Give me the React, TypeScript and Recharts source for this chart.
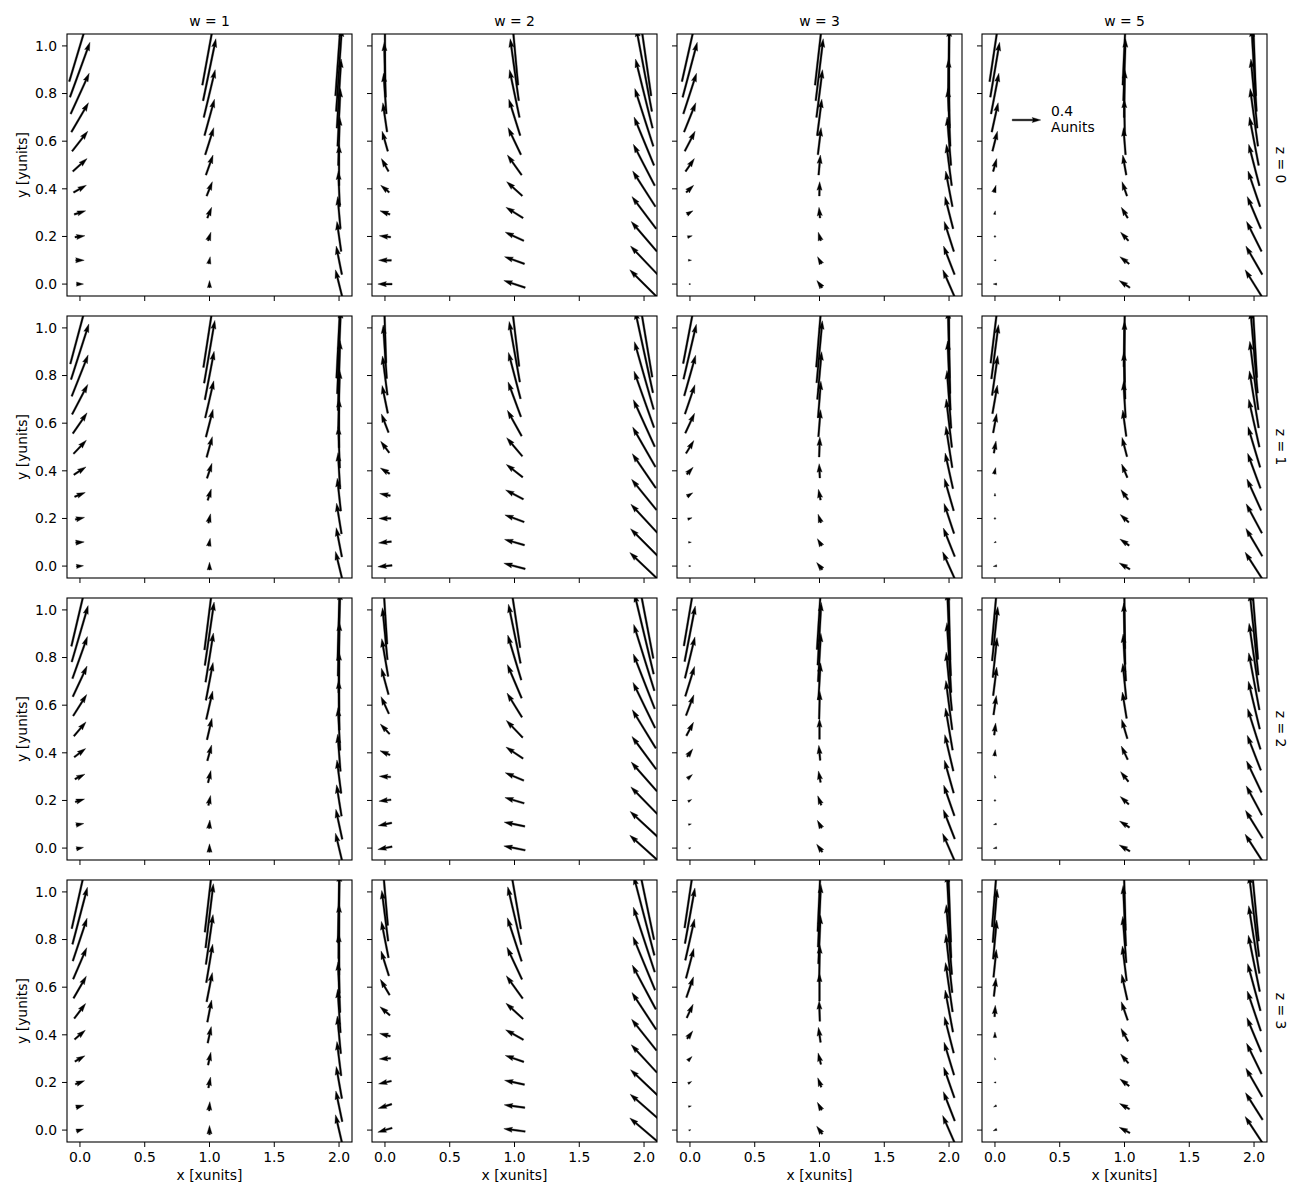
import { ScatterChart, Scatter, XAxis, YAxis } from "recharts";

const X_VALUES = [0, 1, 2];
const Y_VALUES = [0, 0.1, 0.2, 0.3, 0.4, 0.5, 0.6, 0.7, 0.8, 0.9, 1.0];
const Z_VALUES = [0, 1, 2, 3];
const W_VALUES = [1, 2, 3, 5];
const X_TICKS = [0, 0.5, 1, 1.5, 2];
const Y_TICKS = [0, 0.2, 0.4, 0.6, 0.8, 1];
const KEY_VALUE = 0.4;
const KEY_UNITS = "Aunits";

// u component (A), one list per z row: [w column][x][y]
const uZ0 = [
  [[0.10, 0.12, 0.14, 0.16, 0.18, 0.20, 0.22, 0.24, 0.26, 0.28, 0.30], [0, 0.02, 0.04, 0.06, 0.08, 0.10, 0.12, 0.14, 0.16, 0.18, 0.20], [-0.10, -0.08, -0.06, -0.04, -0.02, 0, 0.02, 0.04, 0.06, 0.08, 0.10]],
  [[-0.20, -0.18, -0.16, -0.14, -0.12, -0.10, -0.08, -0.06, -0.04, -0.02, 0], [-0.30, -0.28, -0.26, -0.24, -0.22, -0.20, -0.18, -0.16, -0.14, -0.12, -0.10], [-0.40, -0.38, -0.36, -0.34, -0.32, -0.30, -0.28, -0.26, -0.24, -0.22, -0.20]],
  [[0.025, 0.045, 0.065, 0.085, 0.105, 0.125, 0.145, 0.165, 0.185, 0.205, 0.225], [-0.075, -0.055, -0.035, -0.015, 0.005, 0.025, 0.045, 0.065, 0.085, 0.105, 0.125], [-0.175, -0.155, -0.135, -0.115, -0.095, -0.075, -0.055, -0.035, -0.015, 0.005, 0.025]],
  [[-0.05, -0.03, -0.01, 0.01, 0.03, 0.05, 0.07, 0.09, 0.11, 0.13, 0.15], [-0.15, -0.13, -0.11, -0.09, -0.07, -0.05, -0.03, -0.01, 0.01, 0.03, 0.05], [-0.25, -0.23, -0.21, -0.19, -0.17, -0.15, -0.13, -0.11, -0.09, -0.07, -0.05]],
];
const uZ1 = [
  [[0.10, 0.12, 0.13, 0.15, 0.17, 0.18, 0.20, 0.22, 0.23, 0.25, 0.27], [0, 0.02, 0.03, 0.05, 0.07, 0.08, 0.10, 0.12, 0.13, 0.15, 0.17], [-0.10, -0.08, -0.07, -0.05, -0.03, -0.02, 0, 0.02, 0.03, 0.05, 0.07]],
  [[-0.20, -0.18, -0.17, -0.15, -0.13, -0.12, -0.10, -0.08, -0.07, -0.05, -0.03], [-0.30, -0.28, -0.27, -0.25, -0.23, -0.22, -0.20, -0.18, -0.17, -0.15, -0.13], [-0.40, -0.38, -0.37, -0.35, -0.33, -0.32, -0.30, -0.28, -0.27, -0.25, -0.23]],
  [[0.03, 0.04, 0.06, 0.08, 0.09, 0.11, 0.13, 0.14, 0.16, 0.18, 0.19], [-0.08, -0.06, -0.04, -0.03, -0.01, 0.01, 0.03, 0.04, 0.06, 0.08, 0.09], [-0.18, -0.16, -0.14, -0.13, -0.11, -0.09, -0.08, -0.06, -0.04, -0.03, -0.01]],
  [[-0.05, -0.03, -0.02, 0, 0.02, 0.03, 0.05, 0.07, 0.08, 0.10, 0.12], [-0.15, -0.13, -0.12, -0.10, -0.08, -0.07, -0.05, -0.03, -0.02, 0, 0.02], [-0.25, -0.23, -0.22, -0.20, -0.18, -0.17, -0.15, -0.13, -0.12, -0.10, -0.08]],
];
const uZ2 = [
  [[0.10, 0.11, 0.13, 0.14, 0.16, 0.17, 0.19, 0.20, 0.21, 0.23, 0.24], [0, 0.01, 0.03, 0.04, 0.06, 0.07, 0.09, 0.10, 0.11, 0.13, 0.14], [-0.10, -0.09, -0.07, -0.06, -0.04, -0.03, -0.01, 0, 0.01, 0.03, 0.04]],
  [[-0.20, -0.19, -0.17, -0.16, -0.14, -0.13, -0.11, -0.10, -0.09, -0.07, -0.06], [-0.30, -0.29, -0.27, -0.26, -0.24, -0.23, -0.21, -0.20, -0.19, -0.17, -0.16], [-0.40, -0.39, -0.37, -0.36, -0.34, -0.33, -0.31, -0.30, -0.29, -0.27, -0.26]],
  [[0.03, 0.04, 0.05, 0.07, 0.08, 0.10, 0.11, 0.13, 0.14, 0.15, 0.17], [-0.08, -0.06, -0.05, -0.03, -0.02, 0, 0.01, 0.03, 0.04, 0.05, 0.07], [-0.18, -0.16, -0.15, -0.13, -0.12, -0.10, -0.09, -0.08, -0.06, -0.05, -0.03]],
  [[-0.05, -0.04, -0.02, -0.01, 0.01, 0.02, 0.04, 0.05, 0.06, 0.08, 0.09], [-0.15, -0.14, -0.12, -0.11, -0.09, -0.08, -0.06, -0.05, -0.04, -0.02, -0.01], [-0.25, -0.24, -0.22, -0.21, -0.19, -0.18, -0.16, -0.15, -0.14, -0.12, -0.11]],
];
const uZ3 = [
  [[0.10, 0.11, 0.13, 0.14, 0.15, 0.16, 0.18, 0.19, 0.20, 0.21, 0.23], [0, 0.01, 0.03, 0.04, 0.05, 0.06, 0.08, 0.09, 0.10, 0.11, 0.13], [-0.10, -0.09, -0.08, -0.06, -0.05, -0.04, -0.03, -0.01, 0, 0.01, 0.03]],
  [[-0.20, -0.19, -0.18, -0.16, -0.15, -0.14, -0.13, -0.11, -0.10, -0.09, -0.08], [-0.30, -0.29, -0.28, -0.26, -0.25, -0.24, -0.23, -0.21, -0.20, -0.19, -0.18], [-0.40, -0.39, -0.38, -0.36, -0.35, -0.34, -0.33, -0.31, -0.30, -0.29, -0.28]],
  [[0.03, 0.04, 0.05, 0.06, 0.08, 0.09, 0.10, 0.11, 0.13, 0.14, 0.15], [-0.08, -0.06, -0.05, -0.04, -0.03, -0.01, 0, 0.01, 0.03, 0.04, 0.05], [-0.18, -0.16, -0.15, -0.14, -0.13, -0.11, -0.10, -0.09, -0.08, -0.06, -0.05]],
  [[-0.05, -0.04, -0.03, -0.01, 0, 0.01, 0.03, 0.04, 0.05, 0.06, 0.08], [-0.15, -0.14, -0.13, -0.11, -0.10, -0.09, -0.08, -0.06, -0.05, -0.04, -0.03], [-0.25, -0.24, -0.23, -0.21, -0.20, -0.19, -0.18, -0.16, -0.15, -0.14, -0.13]],
];

// v component (B), same layout
const vZ0 = [
  [[0, 0, 0.02, 0.05, 0.10, 0.18, 0.28, 0.41, 0.57, 0.77, 1.00], [0.10, 0.10, 0.12, 0.15, 0.20, 0.28, 0.38, 0.51, 0.67, 0.87, 1.10], [0.40, 0.40, 0.42, 0.45, 0.50, 0.58, 0.68, 0.81, 0.97, 1.17, 1.40]],
  [[0, 0, 0.02, 0.05, 0.10, 0.18, 0.28, 0.41, 0.57, 0.77, 1.00], [0.10, 0.10, 0.12, 0.15, 0.20, 0.28, 0.38, 0.51, 0.67, 0.87, 1.10], [0.40, 0.40, 0.42, 0.45, 0.50, 0.58, 0.68, 0.81, 0.97, 1.17, 1.40]],
  [[0, 0, 0.02, 0.05, 0.10, 0.18, 0.28, 0.41, 0.57, 0.77, 1.00], [0.10, 0.10, 0.12, 0.15, 0.20, 0.28, 0.38, 0.51, 0.67, 0.87, 1.10], [0.40, 0.40, 0.42, 0.45, 0.50, 0.58, 0.68, 0.81, 0.97, 1.17, 1.40]],
  [[0, 0, 0.02, 0.05, 0.10, 0.18, 0.28, 0.41, 0.57, 0.77, 1.00], [0.10, 0.10, 0.12, 0.15, 0.20, 0.28, 0.38, 0.51, 0.67, 0.87, 1.10], [0.40, 0.40, 0.42, 0.45, 0.50, 0.58, 0.68, 0.81, 0.97, 1.17, 1.40]],
];
const vZ1 = [
  [[0.01, 0.01, 0.03, 0.06, 0.11, 0.19, 0.29, 0.42, 0.58, 0.78, 1.01], [0.11, 0.11, 0.13, 0.16, 0.21, 0.29, 0.39, 0.52, 0.68, 0.88, 1.11], [0.41, 0.41, 0.43, 0.46, 0.51, 0.59, 0.69, 0.82, 0.98, 1.18, 1.41]],
  [[-0.02, -0.02, 0, 0.03, 0.08, 0.16, 0.26, 0.39, 0.55, 0.75, 0.98], [0.08, 0.08, 0.10, 0.13, 0.18, 0.26, 0.36, 0.49, 0.65, 0.85, 1.08], [0.38, 0.38, 0.40, 0.43, 0.48, 0.56, 0.66, 0.79, 0.95, 1.15, 1.38]],
  [[0, 0, 0.02, 0.05, 0.10, 0.18, 0.28, 0.41, 0.57, 0.77, 1.00], [0.10, 0.10, 0.12, 0.15, 0.20, 0.28, 0.38, 0.51, 0.67, 0.87, 1.10], [0.40, 0.40, 0.42, 0.45, 0.50, 0.58, 0.68, 0.81, 0.97, 1.17, 1.40]],
  [[-0.01, -0.01, 0.01, 0.04, 0.09, 0.17, 0.27, 0.40, 0.56, 0.76, 0.99], [0.09, 0.09, 0.11, 0.14, 0.19, 0.27, 0.37, 0.50, 0.66, 0.86, 1.09], [0.39, 0.39, 0.41, 0.44, 0.49, 0.57, 0.67, 0.80, 0.96, 1.16, 1.39]],
];
const vZ2 = [
  [[0.02, 0.02, 0.04, 0.07, 0.12, 0.20, 0.30, 0.43, 0.59, 0.79, 1.02], [0.12, 0.12, 0.14, 0.17, 0.22, 0.30, 0.40, 0.53, 0.69, 0.89, 1.12], [0.42, 0.42, 0.44, 0.47, 0.52, 0.60, 0.70, 0.83, 0.99, 1.19, 1.42]],
  [[-0.04, -0.04, -0.02, 0.01, 0.06, 0.14, 0.24, 0.37, 0.53, 0.73, 0.96], [0.06, 0.06, 0.08, 0.11, 0.16, 0.24, 0.34, 0.47, 0.63, 0.83, 1.06], [0.36, 0.36, 0.38, 0.41, 0.46, 0.54, 0.64, 0.77, 0.93, 1.13, 1.36]],
  [[0.01, 0.01, 0.03, 0.06, 0.11, 0.19, 0.29, 0.42, 0.58, 0.78, 1.01], [0.11, 0.11, 0.13, 0.16, 0.21, 0.29, 0.39, 0.52, 0.68, 0.88, 1.11], [0.41, 0.41, 0.43, 0.46, 0.51, 0.59, 0.69, 0.82, 0.98, 1.18, 1.41]],
  [[-0.01, -0.01, 0.01, 0.04, 0.09, 0.17, 0.27, 0.40, 0.56, 0.76, 0.99], [0.09, 0.09, 0.11, 0.14, 0.19, 0.27, 0.37, 0.50, 0.66, 0.86, 1.09], [0.39, 0.39, 0.41, 0.44, 0.49, 0.57, 0.67, 0.80, 0.96, 1.16, 1.39]],
];
const vZ3 = [
  [[0.03, 0.03, 0.05, 0.08, 0.13, 0.21, 0.31, 0.44, 0.60, 0.80, 1.03], [0.13, 0.13, 0.15, 0.18, 0.23, 0.31, 0.41, 0.54, 0.70, 0.90, 1.13], [0.43, 0.43, 0.45, 0.48, 0.53, 0.61, 0.71, 0.84, 1.00, 1.20, 1.43]],
  [[-0.06, -0.06, -0.04, -0.01, 0.04, 0.12, 0.22, 0.35, 0.51, 0.71, 0.94], [0.04, 0.04, 0.06, 0.09, 0.14, 0.22, 0.32, 0.45, 0.61, 0.81, 1.04], [0.34, 0.34, 0.36, 0.39, 0.44, 0.52, 0.62, 0.75, 0.91, 1.11, 1.34]],
  [[0.01, 0.01, 0.03, 0.06, 0.11, 0.19, 0.29, 0.42, 0.58, 0.78, 1.01], [0.11, 0.11, 0.13, 0.16, 0.21, 0.29, 0.39, 0.52, 0.68, 0.88, 1.11], [0.41, 0.41, 0.43, 0.46, 0.51, 0.59, 0.69, 0.82, 0.98, 1.18, 1.41]],
  [[-0.02, -0.02, 0, 0.03, 0.08, 0.16, 0.26, 0.39, 0.55, 0.75, 0.98], [0.08, 0.08, 0.10, 0.13, 0.18, 0.26, 0.36, 0.49, 0.65, 0.85, 1.08], [0.38, 0.38, 0.40, 0.43, 0.48, 0.56, 0.66, 0.79, 0.95, 1.15, 1.38]],
];

const U_ROWS = [uZ0, uZ1, uZ2, uZ3];
const V_ROWS = [vZ0, vZ1, vZ2, vZ3];

const PANEL_LEFT = [67, 372, 677, 982];
const PANEL_TOP = [34, 316, 598, 880];
const PANEL_W = 285;
const PANEL_H = 262;
const Y_AXIS_W = 40;
const X_AXIS_H = 30;
const PAD = 2;
const PX_PER_UNIT = PANEL_W / 4; // quiver scale=4, relative to axes width
const SHAFT = 0.006 * PANEL_W;
const FONT = "'DejaVu Sans', 'Liberation Sans', sans-serif";
const FS = 13.9;

// matplotlib-style quiver arrow, pivot in the middle
function arrowPoints(cx: number, cy: number, u: number, v: number) {
  const len = (Math.hypot(u, v) * PX_PER_UNIT) / SHAFT;
  if (len < 1) {
    const pts = [];
    for (let i = 0; i < 6; i++) {
      const t = (i * Math.PI) / 3;
      pts.push(`${cx + Math.cos(t) * 0.5 * SHAFT},${cy + Math.sin(t) * 0.5 * SHAFT}`);
    }
    return pts.join(" ");
  }
  let xs: number[];
  let ys: number[];
  if (len >= 5) {
    xs = [0, len - 4.5, len - 5, len, len - 5, len - 4.5, 0];
    ys = [0.5, 0.5, 1.5, 0, -1.5, -0.5, -0.5];
  } else {
    const k = len / 5;
    xs = [0, 0.5, 0, 5, 0, 0.5, 0].map((p) => p * k);
    ys = [0.5, 0.5, 1.5, 0, -1.5, -0.5, -0.5].map((p) => p * k);
  }
  const shift = xs[3] / 2;
  const a = Math.atan2(v, u);
  const c = Math.cos(a);
  const s = Math.sin(a);
  return xs
    .map((x0, i) => {
      const x = (x0 - shift) * SHAFT;
      const y = ys[i] * SHAFT;
      return `${cx + x * c - y * s},${cy - (x * s + y * c)}`;
    })
    .join(" ");
}

const ArrowShape = (props: any) => {
  const { cx, cy, payload } = props;
  if (cx == null || cy == null) return null;
  return (
    <polygon
      points={arrowPoints(cx, cy, payload.u, payload.v)}
      fill="#000"
      stroke="#000"
      strokeWidth={0.35}
      strokeLinejoin="round"
    />
  );
};

const tickStyle = { fill: "#000", fontSize: FS, fontFamily: FONT };

const Panel = ({ r, c }: { r: number; c: number }) => {
  const data = X_VALUES.flatMap((x, xi) =>
    Y_VALUES.map((y, yi) => ({ x, y, u: U_ROWS[r][c][xi][yi], v: V_ROWS[r][c][xi][yi] }))
  );
  return (
    <div style={{ position: "absolute", left: PANEL_LEFT[c] - Y_AXIS_W, top: PANEL_TOP[r] - PAD }}>
      <ScatterChart
        width={Y_AXIS_W + PANEL_W + PAD}
        height={PAD + PANEL_H + X_AXIS_H}
        margin={{ top: PAD, right: PAD, bottom: 0, left: 0 }}
      >
        <XAxis
          type="number"
          dataKey="x"
          domain={[-0.1, 2.1]}
          allowDataOverflow
          ticks={X_TICKS}
          interval={0}
          height={X_AXIS_H}
          tickSize={5}
          tickMargin={5}
          axisLine={false}
          tickLine={{ stroke: "#000" }}
          tick={tickStyle}
          tickFormatter={(t: number) => (r === 3 ? t.toFixed(1) : "")}
        />
        <YAxis
          type="number"
          dataKey="y"
          domain={[-0.05, 1.05]}
          allowDataOverflow
          ticks={Y_TICKS}
          interval={0}
          width={Y_AXIS_W}
          tickSize={5}
          tickMargin={5}
          axisLine={false}
          tickLine={{ stroke: "#000" }}
          tick={tickStyle}
          tickFormatter={(t: number) => (c === 0 ? t.toFixed(1) : "")}
        />
        <Scatter data={data} shape={ArrowShape} isAnimationActive={false} />
      </ScatterChart>
    </div>
  );
};

const App = () => {
  const keyX = 1026.5;
  const keyY = 120;
  return (
    <div style={{ position: "absolute", left: 0, top: 0, width: 1300, height: 1200, background: "#fff" }}>
      {Z_VALUES.map((z, r) => W_VALUES.map((w, c) => <Panel key={`${z}-${w}`} r={r} c={c} />))}
      <svg
        width={1300}
        height={1200}
        style={{ position: "absolute", left: 0, top: 0, pointerEvents: "none" }}
        fontFamily={FONT}
        fontSize={FS}
      >
        {Z_VALUES.map((z, r) =>
          W_VALUES.map((w, c) => (
            <rect
              key={`f-${z}-${w}`}
              x={PANEL_LEFT[c]}
              y={PANEL_TOP[r]}
              width={PANEL_W}
              height={PANEL_H}
              fill="none"
              stroke="#000"
              strokeWidth={1.1}
            />
          ))
        )}
        {W_VALUES.map((w, c) => (
          <g key={`t-${w}`}>
            <text x={PANEL_LEFT[c] + PANEL_W / 2} y={26} textAnchor="middle">{`w = ${w}`}</text>
            <text x={PANEL_LEFT[c] + PANEL_W / 2} y={1180} textAnchor="middle">x [xunits]</text>
          </g>
        ))}
        {Z_VALUES.map((z, r) => {
          const mid = PANEL_TOP[r] + PANEL_H / 2;
          return (
            <g key={`z-${z}`}>
              <text transform={`translate(26.5,${mid}) rotate(-90)`} textAnchor="middle">y [yunits]</text>
              <text transform={`translate(1276,${mid}) rotate(90)`} textAnchor="middle">{`z = ${z}`}</text>
            </g>
          );
        })}
        <polygon points={arrowPoints(keyX, keyY, KEY_VALUE, 0)} fill="#000" stroke="#000" strokeWidth={0.35} />
        <text x={1051} y={116}>{KEY_VALUE}</text>
        <text x={1051} y={132}>{KEY_UNITS}</text>
      </svg>
    </div>
  );
};

export default App;
